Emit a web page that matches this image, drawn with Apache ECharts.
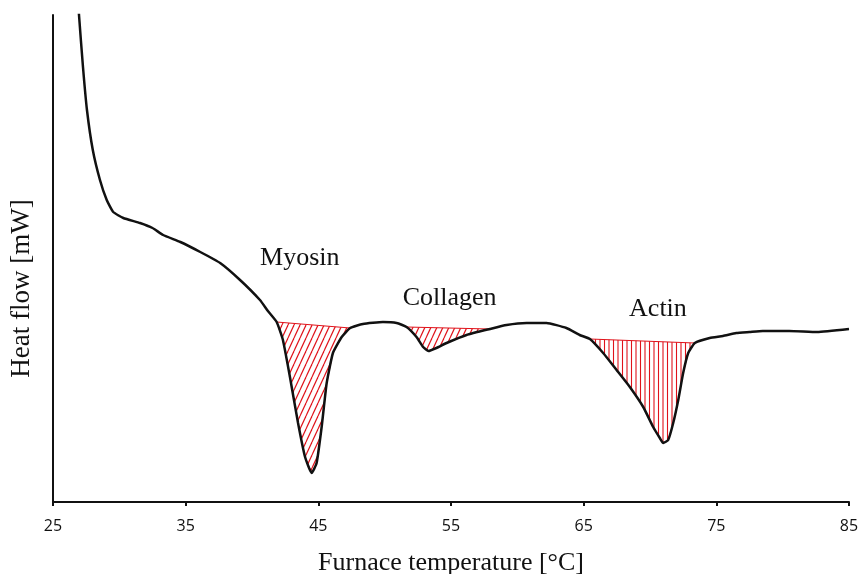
<!DOCTYPE html>
<html>
<head>
<meta charset="utf-8">
<script src="https://cdn.jsdelivr.net/npm/echarts@6/dist/echarts.min.js"></script>
<style>
  html, body { margin: 0; padding: 0; background: #fff; }
  #chart { width: 860px; height: 574px; }
</style>
</head>
<body>
<div id="chart"></div>
<script>
// DSC trace: furnace temperature [°C] vs heat flow (arbitrary units)
var curve = [
    [26.9, 50.7], [26.96, 48.7], [27.26, 43.5], [27.56, 39.2], [28.0, 35.2],
    [28.54, 32.2], [29.05, 30.2], [29.54, 29.0], [30.3, 28.4], [31.56, 27.9],
    [32.5, 27.4], [33.3, 26.7], [34.6, 26.0], [36.1, 25.0], [37.6, 23.9],
    [39.1, 22.2], [40.6, 20.2], [41.2, 19.1], [41.86, 18.0], [42.33, 16.2],
    [42.86, 12.5], [43.47, 7.9], [44.0, 4.5], [44.5, 2.9], [44.87, 3.9],
    [45.25, 7.5], [45.63, 11.9], [46.1, 14.9], [46.76, 16.5], [47.4, 17.4],
    [48.36, 17.8], [49.87, 18.0], [50.9, 17.9], [51.65, 17.5], [52.4, 16.5],
    [52.9, 15.5], [53.3, 15.1], [53.9, 15.4], [54.67, 15.9], [56.17, 16.7],
    [57.93, 17.3], [59.19, 17.7], [60.7, 17.9], [62.2, 17.9], [63.7, 17.4],
    [64.7, 16.7], [65.47, 16.3], [66.47, 14.9], [67.48, 13.2], [68.48, 11.5],
    [69.49, 9.5], [70.24, 7.5], [70.74, 6.4], [71.0, 5.9], [71.37, 6.2],
    [71.75, 7.9], [72.13, 10.2], [72.5, 12.9], [72.88, 14.9], [73.38, 15.9],
    [74.5, 16.4], [75.5, 16.6], [76.5, 16.9], [77.5, 17.0], [78.5, 17.1],
    [80.5, 17.1], [82.6, 17.0], [85.0, 17.3]
];

// integrated peaks: [from, to] on the temperature axis
var peakRanges = [[41.86, 47.4], [51.65, 57.93], [65.47, 73.38]];
var peakHatch = ["diag", "diag", "vert"];

var peakNames = ["Myosin", "Collagen", "Actin"];
var peakLabelX = [43.6, 54.9, 70.6];
var peakLabelY = [24.4, 20.4, 19.3];

var xTicks = [25, 35, 45, 55, 65, 75, 85];

var RED = "#e0121a";

function makeHatch(kind) {
    var c = document.createElement("canvas");
    var ctx;
    if (kind === "diag") {
        c.width = 6;
        c.height = 13;
        ctx = c.getContext("2d");
        ctx.strokeStyle = RED;
        ctx.lineWidth = 1.2;
        [-6, 0, 6].forEach(function (x) {
            ctx.beginPath();
            ctx.moveTo(x, 13);
            ctx.lineTo(x + 6, 0);
            ctx.stroke();
        });
    } else {
        c.width = 9;
        c.height = 4;
        ctx = c.getContext("2d");
        ctx.strokeStyle = RED;
        ctx.lineWidth = 1.1;
        [1.5, 6].forEach(function (x) {
            ctx.beginPath();
            ctx.moveTo(x, 0);
            ctx.lineTo(x, 4);
            ctx.stroke();
        });
    }
    return { image: c, repeat: "repeat" };
}

var patterns = { diag: makeHatch("diag"), vert: makeHatch("vert") };

var chart = echarts.init(document.getElementById("chart"), null, { renderer: "canvas" });

var option = {
    animation: false,
    backgroundColor: "#fff",
    grid: { left: 53, right: 11, top: 15, bottom: 72, containLabel: false, outerBoundsMode: "none" },
    xAxis: {
        type: "value",
        min: xTicks[0],
        max: xTicks[xTicks.length - 1],
        interval: 10,
        name: "Furnace temperature [°C]",
        nameLocation: "middle",
        nameGap: 48,
        nameTextStyle: { fontFamily: "Liberation Serif", fontSize: 26, color: "#111" },
        axisLine: { lineStyle: { color: "#111", width: 2 } },
        axisTick: { show: true, inside: false, length: 4, lineStyle: { color: "#111", width: 2 } },
        axisLabel: { margin: 16, fontFamily: "Open Sans", fontSize: 16, color: "#111" },
        splitLine: { show: false }
    },
    yAxis: {
        type: "value",
        min: 0,
        max: 48.7,
        name: "Heat flow [mW]",
        nameLocation: "middle",
        nameGap: 18,
        nameRotate: 90,
        nameTextStyle: { fontFamily: "Liberation Serif", fontSize: 27, color: "#111", padding: [0, 60, 0, 0] },
        axisLine: { show: true, lineStyle: { color: "#111", width: 2 } },
        axisTick: { show: false },
        axisLabel: { show: false },
        splitLine: { show: false }
    },
    series: [
        {
            type: "custom",
            name: "peaks",
            data: peakRanges,
            encode: { x: [0, 1] },
            clip: true,
            z: 2,
            renderItem: function (params, api) {
                var r = peakRanges[params.dataIndex];
                var pts = curve
                    .filter(function (p) { return p[0] >= r[0] && p[0] <= r[1]; })
                    .map(function (p) { return api.coord(p); });
                return {
                    type: "polygon",
                    shape: { points: pts },
                    style: { fill: patterns[peakHatch[params.dataIndex]], stroke: RED, lineWidth: 1 }
                };
            }
        },
        {
            type: "line",
            name: "heat flow",
            data: curve,
            showSymbol: false,
            smooth: 0.15,
            clip: true,
            z: 5,
            lineStyle: { color: "#111", width: 2.5 }
        },
        {
            type: "scatter",
            name: "labels",
            symbolSize: 0,
            z: 6,
            itemStyle: { opacity: 1 },
            data: peakNames.map(function (n, i) {
                return { name: n, value: [peakLabelX[i], peakLabelY[i]] };
            }),
            label: {
                show: true,
                position: "inside",
                formatter: "{b}",
                fontFamily: "Liberation Serif",
                fontSize: 26,
                color: "#111",
                opacity: 1
            }
        }
    ]
};

chart.setOption(option);
</script>
</body>
</html>
